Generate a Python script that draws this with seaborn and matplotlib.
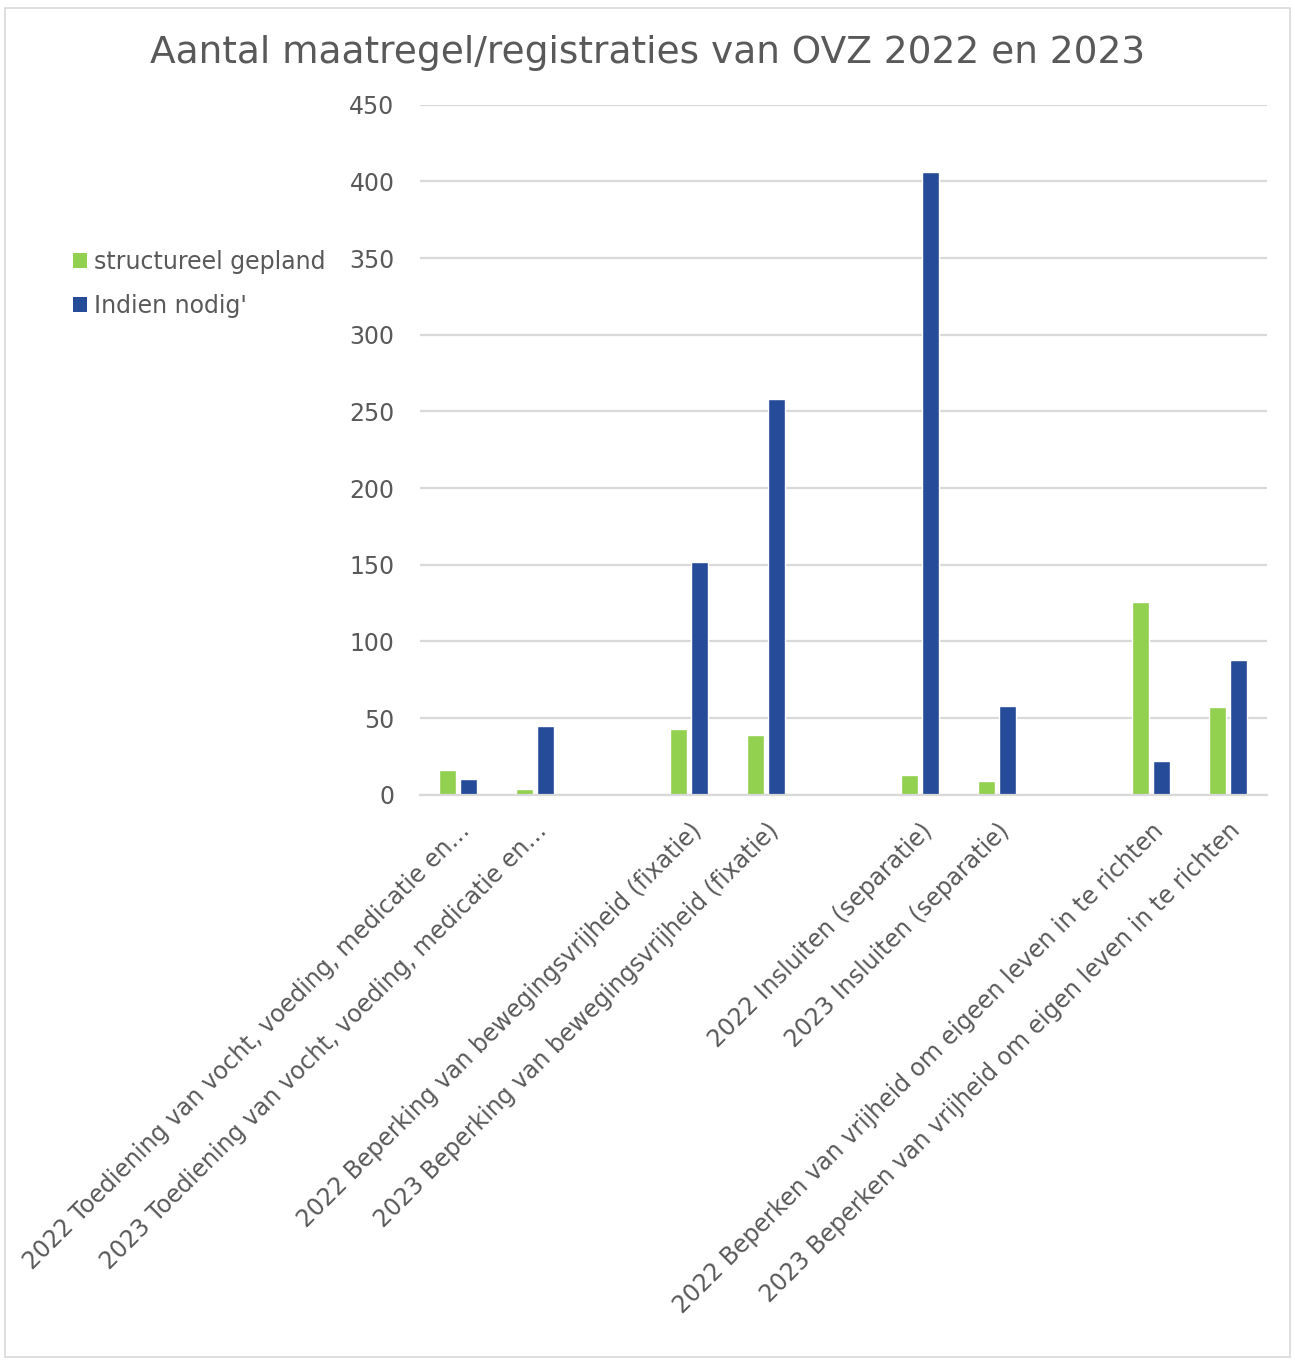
import matplotlib.pyplot as plt
import pandas as pd
import seaborn as sns
from matplotlib.patches import Patch, Rectangle

categories = [
    "2022 Toediening van vocht, voeding, medicatie en…",
    "2023 Toediening van vocht, voeding, medicatie en…",
    " ",
    "2022 Beperking van bewegingsvrijheid (fixatie)",
    "2023 Beperking van bewegingsvrijheid (fixatie)",
    "  ",
    "2022 Insluiten (separatie)",
    "2023 Insluiten (separatie)",
    "   ",
    "2022 Beperken van vrijheid om eigeen leven in te richten",
    "2023 Beperken van vrijheid om eigen leven in te richten",
]
real_cats = [c for c in categories if c.strip()]
structureel = [16, 4, 43, 39, 13, 9, 126, 57]
indien_nodig = [10, 45, 152, 258, 406, 58, 22, 88]
series = ["structureel gepland", "Indien nodig'"]
colors = ["#92D050", "#264B99"]

df = pd.DataFrame({
    "cat": real_cats * 2,
    "serie": [series[0]] * len(real_cats) + [series[1]] * len(real_cats),
    "value": structureel + indien_nodig,
})

sns.set_style("white")
plt.rcParams["font.family"] = ["DejaVu Sans"]
TXT = "#595959"

fig = plt.figure(figsize=(12.95, 13.61), dpi=100)
ax = fig.add_axes([0.324, 0.416, 0.654, 0.507])

sns.barplot(data=df, x="cat", y="value", hue="serie", order=categories,
            hue_order=series, palette=colors, saturation=1, width=0.55, gap=0.2,
            errorbar=None, legend=False, ax=ax)

ax.set_ylim(0, 450)
ax.set_yticks(range(0, 451, 50))
ax.yaxis.grid(True, color="#D9D9D9", linewidth=1.6)
ax.set_axisbelow(True)
for s in ["left", "right", "top"]:
    ax.spines[s].set_visible(False)
ax.spines["bottom"].set_color("#D9D9D9")
ax.spines["bottom"].set_linewidth(1.6)
ax.set_xlabel("")
ax.set_ylabel("")
ax.tick_params(axis="both", length=0, labelsize=17, colors=TXT)
ax.tick_params(axis="y", pad=18)
ax.tick_params(axis="x", pad=17)
ax.set_xticks(range(len(categories)))
ax.set_xticklabels(categories, rotation=45, ha="right", va="top",
                   rotation_mode="anchor")
for lab in ax.get_xticklabels():
    lab.set_color(TXT)

fig.suptitle("Aantal maatregel/registraties van OVZ 2022 en 2023",
             x=0.5, y=0.974, fontsize=27, color=TXT)

handles = [Patch(facecolor=c, edgecolor="none") for c in colors]
fig.legend(handles, series, loc="upper left", bbox_to_anchor=(0.04, 0.832),
           frameon=False, fontsize=17, labelcolor=TXT, handlelength=0.6,
           handleheight=0.6, handletextpad=0.3, labelspacing=0.85)

fig.patches.append(Rectangle((0.004, 0.003), 0.992, 0.991, transform=fig.transFigure,
                             fill=False, edgecolor="#D9D9D9", linewidth=1.2))

fig.savefig("out.png", dpi=100)
